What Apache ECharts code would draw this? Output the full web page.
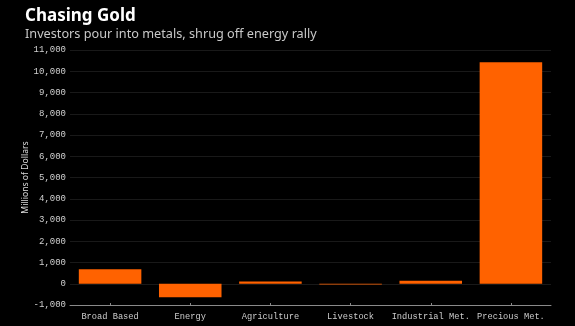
<!DOCTYPE html>
<html>
<head>
<meta charset="utf-8">
<script src="https://cdn.jsdelivr.net/npm/echarts@6/dist/echarts.min.js"></script>
<style>
  html, body { margin: 0; padding: 0; background: #000; }
  #chart { width: 575px; height: 326px; }
</style>
</head>
<body>
<div id="chart"></div>
<script>
// Fund flows by commodity sector, millions of dollars
const categories = ['Broad Based', 'Energy', 'Agriculture', 'Livestock', 'Industrial Met.', 'Precious Met.'];
const flows = [680, -640, 110, -30, 140, 10420];
const yTicks = { min: -1000, max: 11000, step: 1000 };

const chart = echarts.init(document.getElementById('chart'), null, { renderer: 'canvas' });

chart.setOption({
  backgroundColor: '#000',
  animation: false,
  title: {
    text: 'Chasing Gold',
    subtext: 'Investors pour into metals, shrug off energy rally',
    left: 20,
    top: 3,
    itemGap: 3,
    textStyle: { color: '#fff', fontFamily: 'Noto Sans', fontWeight: 'bold', fontSize: 17 },
    subtextStyle: { color: '#c8c8c8', fontFamily: 'Noto Sans', fontSize: 12.7 }
  },
  grid: { left: 70, right: 24, top: 50, bottom: 21 },
  xAxis: {
    type: 'category',
    data: categories,
    axisLine: { show: true, onZero: false, lineStyle: { color: '#8a8a8a', width: 1 } },
    axisTick: { show: true, alignWithLabel: true, inside: true, length: 2, lineStyle: { color: '#8a8a8a' } },
    axisLabel: { color: '#ccc', fontFamily: 'Liberation Mono', fontSize: 8.7, margin: 7, interval: 0 }
  },
  yAxis: {
    type: 'value',
    min: yTicks.min,
    max: yTicks.max,
    interval: yTicks.step,
    name: 'Millions of Dollars',
    nameLocation: 'middle',
    nameGap: 40,
    nameMoveOverlap: false,
    nameTextStyle: { color: '#ddd', fontFamily: 'Noto Sans', fontSize: 8.6 },
    axisLine: { show: false },
    axisTick: { show: false },
    splitLine: { lineStyle: { color: '#191919', width: 1 } },
    axisLabel: {
      color: '#d0d0d0', fontFamily: 'Liberation Mono', fontSize: 9, margin: 4,
      formatter: v => v.toLocaleString('en-US')
    }
  },
  series: [
    {
      type: 'bar',
      data: flows,
      barWidth: '78%',
      itemStyle: { color: '#ff6200' }
    }
  ]
});
</script>
</body>
</html>
